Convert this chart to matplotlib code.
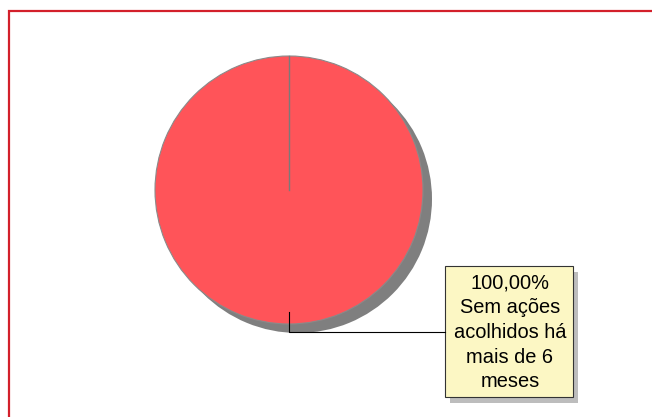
import matplotlib.pyplot as plt
from matplotlib.patches import Rectangle

# dados do grafico
categorias = ["Sem ações acolhidos há mais de 6 meses"]
valores = [100.0]
rotulos = ["100,00%\nSem ações\nacolhidos há\nmais de 6\nmeses"]

W, H = 652, 417
fig = plt.figure(figsize=(W / 100, H / 100), dpi=100)
ax = fig.add_axes([0, 0, 1, 1])
ax.set_aspect("equal")

def py(y):
    # coordenada de pixel (de cima) -> coordenada do eixo
    return H - y

# moldura vermelha
ax.add_patch(Rectangle((9, py(11) - 600), 700, 600, fill=False,
                       edgecolor="#d3202b", linewidth=1.6, clip_on=False))

cx, cy, r = 289, 190, 134

# sombra
ax.pie(valores, colors=["#7f7f7f"], radius=r, center=(cx + 9, py(cy + 9)),
       startangle=90, counterclock=False, frame=True,
       wedgeprops=dict(linewidth=0))
# pizza
ax.pie(valores, colors=["#ff5459"], radius=r, center=(cx, py(cy)),
       startangle=90, counterclock=False, frame=True,
       wedgeprops=dict(edgecolor="#8a8a8a", linewidth=0.8))
# borda radial da fatia (inicio em 90 graus)
ax.plot([cx, cx], [py(cy), py(cy) + r], color="#7a7a7a", lw=1.0, zorder=5)
ax.set_xlim(0, W)
ax.set_ylim(0, H)
ax.axis("off")

# linha guia
ax.plot([cx, cx, 445], [py(312), py(332), py(332)], color="black", lw=0.8, zorder=5)

# caixa do rotulo
bx, by, bw, bh = 445, 266, 128, 131
ax.add_patch(Rectangle((bx + 5, py(by + bh + 6)), bw, bh,
                       facecolor="#bdbdbd", edgecolor="none"))
ax.add_patch(Rectangle((bx, py(by + bh)), bw, bh,
                       facecolor="#fcf7c4", edgecolor="#333333", linewidth=0.8))
ax.text(bx + bw / 2 + 1, py(by + bh / 2 + 1), rotulos[0], ha="center", va="center",
        fontsize=14.4, family="Liberation Sans", linespacing=1.38, color="black")

fig.savefig("out.png", dpi=100, facecolor="white")
